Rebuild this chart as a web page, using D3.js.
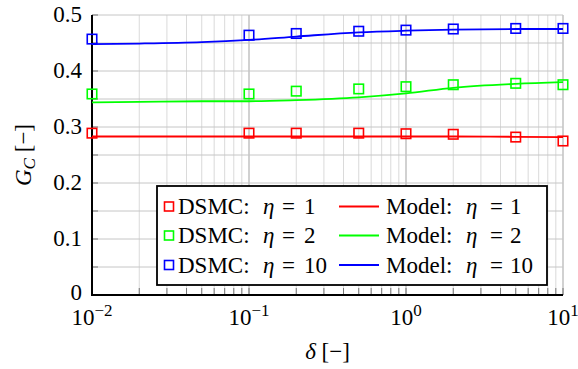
<!DOCTYPE html>
<html>
<head>
<meta charset="utf-8">
<script src="https://cdn.jsdelivr.net/npm/d3@7"></script>
<style>
  body { margin: 0; background: #fff; }
  svg { display: block; }
</style>
</head>
<body>
<svg id="chart"></svg>
<script>
// DSMC sample points (delta)
const dsmcDelta = [0.01, 0.1, 0.2, 0.5, 1, 2, 5, 10];
const dsmcEta1 = [0.289, 0.289, 0.289, 0.289, 0.288, 0.287, 0.282, 0.275];
const dsmcEta2 = [0.359, 0.359, 0.364, 0.368, 0.372, 0.3755, 0.378, 0.3755];
const dsmcEta10 = [0.457, 0.464, 0.467, 0.471, 0.473, 0.475, 0.476, 0.476];

// model curves
const modelDelta = [0.01, 0.02, 0.05, 0.1, 0.2, 0.5, 1, 2, 5, 10];
const modelEta1 = [0.283, 0.283, 0.283, 0.283, 0.283, 0.283, 0.283, 0.283, 0.2825, 0.282];
const modelEta2 = [0.344, 0.345, 0.346, 0.346, 0.348, 0.353, 0.360, 0.370, 0.377, 0.380];
const modelEta10 = [0.448, 0.449, 0.4515, 0.4555, 0.4615, 0.469, 0.472, 0.474, 0.475, 0.475];

const etaLabels = ["1", "2", "10"];
const colors = ["#ff0000", "#00ff00", "#0000ff"];
const yTicks = [0, 0.1, 0.2, 0.3, 0.4, 0.5];
const xExponents = [-2, -1, 0, 1];

const width = 578;
const height = 369;
const margin = { top: 15, right: 15, bottom: 74, left: 92 };
const font = "'Liberation Serif', 'Times New Roman', 'DejaVu Serif', serif";

const svg = d3.select("#chart").attr("width", width).attr("height", height)
  .attr("font-family", font);

const x = d3.scaleLog().domain([0.01, 10]).range([margin.left, width - margin.right]);
const y = d3.scaleLinear().domain([0, 0.5]).range([height - margin.bottom, margin.top]);

const x0 = x.range()[0], x1 = x.range()[1];
const y0 = y.range()[0], y1 = y.range()[1];

// grid
const minorX = [];
xExponents.slice(0, 3).forEach(e => {
  for (let k = 2; k <= 9; k++) minorX.push(k * Math.pow(10, e));
});
const majorX = xExponents.map(e => Math.pow(10, e));
const gridY = d3.range(0, 0.5001, 0.05);

const grid = svg.append("g");
grid.selectAll(".vminor").data(minorX).enter().append("line")
  .attr("x1", d => x(d)).attr("x2", d => x(d))
  .attr("y1", y0).attr("y2", y1)
  .attr("stroke", "#dadada").attr("stroke-width", 1);
grid.selectAll(".hgrid").data(gridY).enter().append("line")
  .attr("x1", x0).attr("x2", x1)
  .attr("y1", d => y(d)).attr("y2", d => y(d))
  .attr("stroke", "#c6c6c6").attr("stroke-width", 1);
grid.selectAll(".vmajor").data(majorX).enter().append("line")
  .attr("x1", d => x(d)).attr("x2", d => x(d))
  .attr("y1", y0).attr("y2", y1)
  .attr("stroke", "#c6c6c6").attr("stroke-width", 1.6);

// tick marks (inside)
const ticks = svg.append("g").attr("stroke", "#777").attr("stroke-width", 1);
ticks.selectAll(".yt").data(gridY).enter().append("line")
  .attr("x1", x0).attr("x2", x0 + 6)
  .attr("y1", d => y(d)).attr("y2", d => y(d));
ticks.selectAll(".xt").data(minorX.concat(majorX)).enter().append("line")
  .attr("x1", d => x(d)).attr("x2", d => x(d))
  .attr("y1", y0).attr("y2", y0 - 7);

// axis lines
svg.append("line").attr("x1", x0).attr("x2", x0).attr("y1", y0 + 1).attr("y2", y1)
  .attr("stroke", "#000").attr("stroke-width", 2);
svg.append("line").attr("x1", x0 - 1).attr("x2", x1).attr("y1", y0).attr("y2", y0)
  .attr("stroke", "#000").attr("stroke-width", 2);

// tick labels
svg.append("g").selectAll("text").data(yTicks).enter().append("text")
  .attr("x", x0 - 10).attr("y", d => y(d) - (d === 0 ? 2 : 0)).attr("dy", "0.32em")
  .attr("text-anchor", "end").attr("font-size", 23)
  .text(d => d === 0 ? "0" : d.toFixed(1));

const xl = svg.append("g").selectAll("text").data(xExponents).enter().append("text")
  .attr("x", d => x(Math.pow(10, d))).attr("y", y0 + 30)
  .attr("text-anchor", "middle").attr("font-size", 23);
xl.append("tspan").text("10");
xl.append("tspan").attr("dy", -9).attr("font-size", 17)
  .text(d => d < 0 ? "\u2212" + Math.abs(d) : String(d));

// axis labels
const xlab = svg.append("text").attr("x", (x0 + x1) / 2).attr("y", 359)
  .attr("text-anchor", "middle").attr("font-size", 23);
xlab.append("tspan").attr("font-style", "italic").text("δ");
xlab.append("tspan").text(" [\u2212]");

const ylab = svg.append("text").attr("transform", "translate(31,155) rotate(-90)")
  .attr("text-anchor", "middle").attr("font-size", 23);
ylab.append("tspan").attr("font-style", "italic").text("G");
ylab.append("tspan").attr("font-style", "italic").attr("font-size", 17).attr("dy", 4).text("C");
ylab.append("tspan").attr("dy", -4).text(" [\u2212]");

// model lines
const line = d3.line()
  .x(d => x(d[0])).y(d => y(d[1]))
  .curve(d3.curveMonotoneX);
[modelEta1, modelEta2, modelEta10].forEach((vals, i) => {
  svg.append("path")
    .datum(modelDelta.map((d, j) => [d, vals[j]]))
    .attr("d", line)
    .attr("fill", "none").attr("stroke", colors[i]).attr("stroke-width", 1.8);
});

// DSMC markers
const sq = 9.5;
[dsmcEta1, dsmcEta2, dsmcEta10].forEach((vals, i) => {
  svg.append("g").selectAll("rect")
    .data(dsmcDelta.map((d, j) => [d, vals[j]]))
    .enter().append("rect")
    .attr("x", d => x(d[0]) - sq / 2).attr("y", d => y(d[1]) - sq / 2)
    .attr("width", sq).attr("height", sq)
    .attr("fill", "none").attr("stroke", colors[i]).attr("stroke-width", 1.6);
});

// legend
const legend = svg.append("g");
legend.append("rect").attr("x", 157).attr("y", 186).attr("width", 390).attr("height", 99)
  .attr("fill", "#fff").attr("stroke", "#000").attr("stroke-width", 1.8);

const rowY = [206.5, 235.5, 265];
const dsmcOff = [0, 85, 104, 126];
const modelOff = [0, 80, 104, 124];

function legendText(x, y, prefix, eta, off) {
  const t = legend.append("text").attr("y", y).attr("dy", "0.34em").attr("font-size", 23);
  t.append("tspan").attr("x", x + off[0]).text(prefix);
  t.append("tspan").attr("x", x + off[1]).attr("font-style", "italic").text("η");
  t.append("tspan").attr("x", x + off[2]).text("=");
  t.append("tspan").attr("x", x + off[3]).text(eta);
}

etaLabels.forEach((eta, i) => {
  legend.append("rect").attr("x", 169 - 4.5).attr("y", rowY[i] - 4.5)
    .attr("width", 9).attr("height", 9)
    .attr("fill", "none").attr("stroke", colors[i]).attr("stroke-width", 1.6);
  legendText(178, rowY[i], "DSMC:", eta, dsmcOff);
  legend.append("line").attr("x1", 339).attr("x2", 379)
    .attr("y1", rowY[i]).attr("y2", rowY[i])
    .attr("stroke", colors[i]).attr("stroke-width", 1.8);
  legendText(386, rowY[i], "Model:", eta, modelOff);
});
</script>
</body>
</html>
